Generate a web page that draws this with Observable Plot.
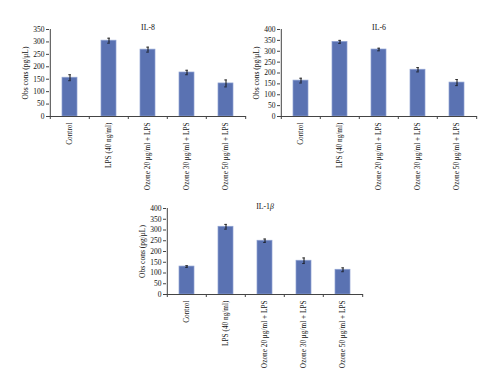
<!DOCTYPE html>
<html>
<head>
<meta charset="utf-8">
<script src="https://cdn.jsdelivr.net/npm/d3@7"></script>
<script src="https://cdn.jsdelivr.net/npm/@observablehq/plot@0.6"></script>
<style>
  html, body { margin: 0; padding: 0; background: #fff; }
  #wrap { position: relative; width: 500px; height: 392px; overflow: hidden; background: #fff; }
  .panel { position: absolute; }
  .panel svg { background: transparent !important; }
</style>
</head>
<body>
<div id="wrap">
  <div class="panel" id="p1" style="left:0px; top:0px;"></div>
  <div class="panel" id="p2" style="left:231px; top:0px;"></div>
  <div class="panel" id="p3" style="left:117px; top:179px;"></div>
</div>
<script>
const categories = ["Control", "LPS (40 ng/ml)", "Ozone 20 μg/ml + LPS", "Ozone 30 μg/ml + LPS", "Ozone 50 μg/ml + LPS"];

const il8Values = [156, 305, 269, 177, 133];
const il8Errors = [12, 10, 10, 9, 14];
const il8Ticks = [0, 50, 100, 150, 200, 250, 300, 350];

const il6Values = [165, 343, 308, 215, 156];
const il6Errors = [11, 7, 6, 10, 14];
const il6Ticks = [0, 50, 100, 150, 200, 250, 300, 350, 400];

const il1bValues = [130, 315, 250, 157, 115];
const il1bErrors = [4, 11, 8, 13, 9];
const il1bTicks = [0, 50, 100, 150, 200, 250, 300, 350, 400];

const yLabel = "Obs cons (pg/μL)";

function panel({title, values, errors, ticks, yMax, marginBottom}) {
  const data = categories.map((c, i) => ({cat: c, v: values[i], lo: values[i] - errors[i], hi: values[i] + errors[i]}));
  const width = 250, marginLeft = 49, marginRight = 4;
  const bw = (width - marginLeft - marginRight) / categories.length;
  const axisColor = "#444";
  return Plot.plot({
    width,
    height: 200,
    marginLeft,
    marginRight,
    marginTop: 29,
    marginBottom,
    style: {fontFamily: "'Liberation Serif', 'Times New Roman', serif", fontSize: "7.3px", color: "#111", background: "transparent", overflow: "visible"},
    x: {domain: categories, padding: 0, axis: null},
    y: {domain: [0, yMax], axis: null},
    marks: [
      Plot.barY(data, {x: "cat", y: "v", fill: "#5a72b2", stroke: "#8fa2d2", strokeWidth: 0.7, insetLeft: 12, insetRight: 12}),
      Plot.ruleX(data, {x: "cat", y1: "lo", y2: "hi", stroke: "#111", strokeWidth: 1}),
      Plot.tickY(data, {x: "cat", y: "lo", stroke: "#111", strokeWidth: 0.8, insetLeft: 18.2, insetRight: 18.2}),
      Plot.tickY(data, {x: "cat", y: "hi", stroke: "#111", strokeWidth: 0.8, insetLeft: 18.2, insetRight: 18.2}),
      Plot.axisY({ticks, tickSize: 3, tickPadding: 2, stroke: axisColor, fill: "#111", label: yLabel, labelAnchor: "center", labelOffset: 27, labelArrow: "none", fontSize: 7.5}),
      Plot.ruleX([categories[0]], {dx: -bw / 2, stroke: axisColor, strokeWidth: 1}),
      Plot.ruleY([0], {stroke: axisColor, strokeWidth: 1}),
      Plot.axisX({tickSize: 3, tickFormat: () => "", dx: -bw / 2, stroke: axisColor, label: null}),
      Plot.axisX({ticks: [categories[categories.length - 1]], tickSize: 3, tickFormat: () => "", dx: bw / 2, stroke: axisColor, label: null}),
      Plot.axisX({tickSize: 0, tickPadding: 6, tickRotate: -90, label: null, fontSize: 7.3, fill: "#111"}),
      Plot.text([title], {frameAnchor: "top", dy: -5, fontSize: 7.8, fill: "#111", text: d => d})
    ]
  });
}

document.getElementById("p1").appendChild(panel({title: "IL-8", values: il8Values, errors: il8Errors, ticks: il8Ticks, yMax: 350, marginBottom: 84}));
document.getElementById("p2").appendChild(panel({title: "IL-6", values: il6Values, errors: il6Errors, ticks: il6Ticks, yMax: 400, marginBottom: 84}));
const p3 = panel({title: "IL-1β", values: il1bValues, errors: il1bErrors, ticks: il1bTicks, yMax: 400, marginBottom: 85});
document.getElementById("p3").appendChild(p3);
// italic beta in title
p3.querySelectorAll("text").forEach(t => {
  if (t.textContent === "IL-1β") {
    t.textContent = "IL-1";
    const ts = document.createElementNS("http://www.w3.org/2000/svg", "tspan");
    ts.setAttribute("font-style", "italic");
    ts.textContent = "β";
    t.appendChild(ts);
  }
});
</script>
</body>
</html>
